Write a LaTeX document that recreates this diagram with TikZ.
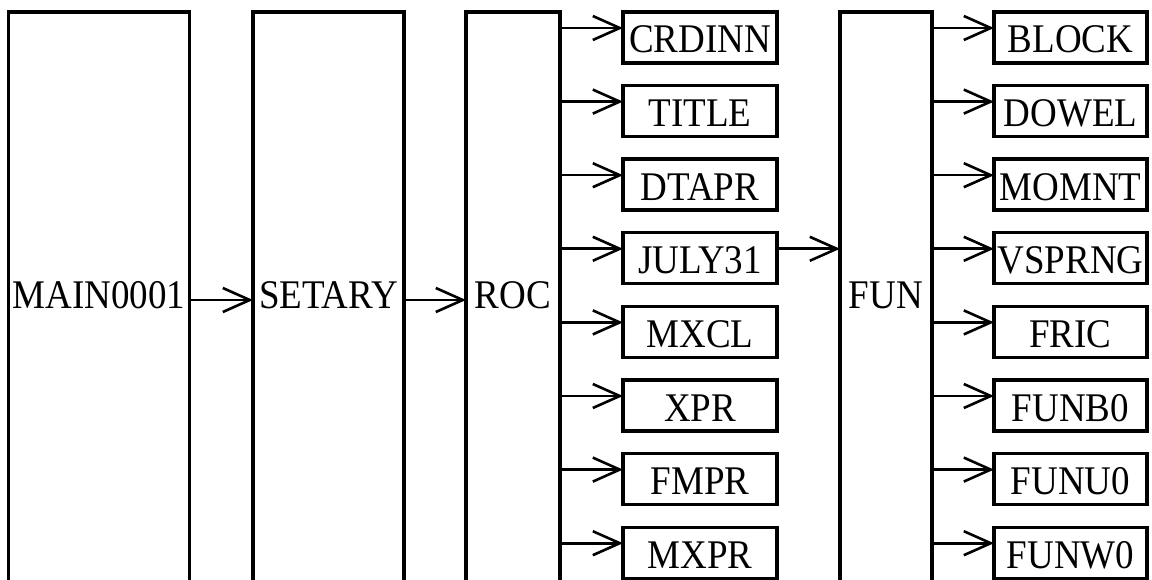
\documentclass[tikz,border=0pt]{standalone}
\usepackage{fontspec}
\usepackage{graphicx}
\setmainfont{Liberation Serif}
\usetikzlibrary{arrows.meta}

% slightly tall capitals for the routine names
\newcommand{\rname}[1]{\scalebox{1}[1.1]{#1}}

\tikzset{
  label font/.style={font=\fontsize{37pt}{40pt}\selectfont},
  routine/.style={label font, draw, line width=3.4pt, inner sep=0pt, outer sep=0pt,
    minimum height=51pt, text height=31pt, text depth=0pt},
  leftcol/.style={routine, minimum width=154pt},
  rightcol/.style={routine, minimum width=153pt},
  tallbox/.style={label font, inner sep=0pt, outer sep=0pt,
    minimum height=566pt, text height=27pt, text depth=0pt},
  frame/.style={line width=3.4pt, line join=miter},
  call/.style={line width=2.6pt, -{Straight Barb[length=27pt, width=24pt]}},
}

\begin{document}
\begin{tikzpicture}[x=1pt, y=-1pt]
\useasboundingbox (0,0) rectangle (1152,580);

% tall routine boxes (open at the bottom)
\node[tallbox, minimum width=181pt] (main)   at (99,295)    {\rname{MAIN0001}};
\node[tallbox, minimum width=151pt] (setary) at (328.5,295) {\rname{SETARY}};
\node[tallbox, minimum width=94pt]  (roc)    at (513,295)   {\rname{ROC}};
\node[tallbox, minimum width=92pt]  (fun)    at (886,295)   {\rname{FUN}};
\foreach \b in {main, setary, roc, fun}
  \draw[frame] ([yshift=-12pt]\b.south west) -- (\b.north west)
               -- (\b.north east) -- ([yshift=-12pt]\b.south east);

% routines called by ROC
\node[leftcol] (crdinn) at (700,37.5)  {\rname{CRDINN}};
\node[leftcol] (title)  at (700,111.1) {\rname{TITLE}};
\node[leftcol] (dtapr)  at (700,184.7) {\rname{DTAPR}};
\node[leftcol] (july)   at (700,258.3) {\rname{JULY31}};
\node[leftcol] (mxcl)   at (700,331.9) {\rname{MXCL}};
\node[leftcol] (xpr)    at (700,405.5) {\rname{XPR}};
\node[leftcol] (fmpr)   at (700,479.1) {\rname{FMPR}};
\node[leftcol] (mxpr)   at (700,552.7) {\rname{MXPR}};

% routines called by FUN
\node[rightcol] (block)  at (1070.5,37.5)  {\rname{BLOCK}};
\node[rightcol] (dowel)  at (1070.5,111.1) {\rname{DOWEL}};
\node[rightcol] (momnt)  at (1070.5,184.7) {\rname{MOMNT}};
\node[rightcol] (vsprng) at (1070.5,258.3) {\rname{VSPRNG}};
\node[rightcol] (fric)   at (1070.5,331.9) {\rname{FRIC}};
\node[rightcol] (funb)   at (1070.5,405.5) {\rname{FUNB0}};
\node[rightcol] (funu)   at (1070.5,479.1) {\rname{FUNU0}};
\node[rightcol] (funw)   at (1070.5,552.7) {\rname{FUNW0}};

% main call chain
\draw[call] ([yshift=-5pt]main.east)   -- ([yshift=-5pt]setary.west);
\draw[call] ([yshift=-5pt]setary.east) -- ([yshift=-5pt]roc.west);

% ROC calls
\foreach \r in {crdinn, title, dtapr, july, mxcl, xpr, fmpr, mxpr} {
  \coordinate (\r-in) at ([yshift=9.5pt]\r.west);
  \draw[call] (roc.east |- \r-in) -- (\r-in);
}

% JULY31 calls FUN
\draw[call] (july.east |- july-in) -- (fun.west |- july-in);

% FUN calls
\foreach \r in {block, dowel, momnt, vsprng, fric, funb, funu, funw} {
  \coordinate (\r-in) at ([yshift=9.5pt]\r.west);
  \draw[call] (fun.east |- \r-in) -- (\r-in);
}
\end{tikzpicture}
\end{document}
